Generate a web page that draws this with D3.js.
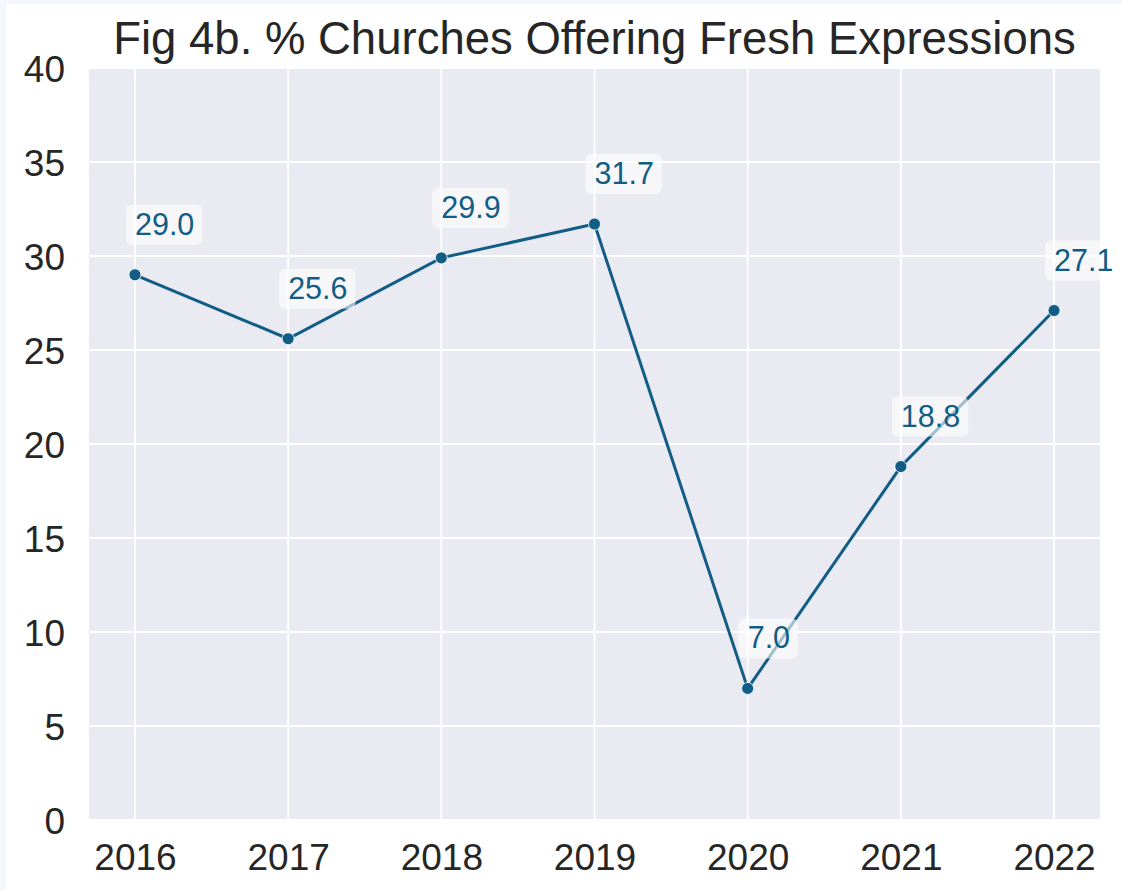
<!DOCTYPE html>
<html>
<head>
    <script src="https://d3js.org/d3.v7.min.js"></script>
    <style>
        body { margin: 0; background: #f4f7fb; }
        svg { display: block; }
    </style>
</head>
<body>
    <div id="chart"></div>
    <script>
        // data
        const years = [2016, 2017, 2018, 2019, 2020, 2021, 2022]
        const pct = [29.0, 25.6, 29.9, 31.7, 7.0, 18.8, 27.1]
        const yTicks = [0, 5, 10, 15, 20, 25, 30, 35, 40]

        const W = 1122, H = 890
        const plot = { left: 89, right: 1100, top: 68, bottom: 820 }
        const lineColor = "#115d85"
        const font = "Arial, 'Liberation Sans', sans-serif"

        const svg = d3.select("#chart").append("svg")
            .attr("width", W).attr("height", H)

        // figure background (white, with the thin light strip at top/left)
        svg.append("rect").attr("x", 6).attr("y", 4)
            .attr("width", W - 6).attr("height", H - 4).attr("fill", "#ffffff")

        const x = d3.scaleLinear().domain([2015.7, 2022.3]).range([plot.left, plot.right])
        const y = d3.scaleLinear().domain([0, 40]).range([plot.bottom, plot.top])

        // plot area
        svg.append("rect")
            .attr("x", plot.left).attr("y", plot.top)
            .attr("width", plot.right - plot.left).attr("height", plot.bottom - plot.top)
            .attr("fill", "#eaeaf2")

        // grid
        svg.append("g").selectAll("line").data(yTicks).join("line")
            .attr("x1", plot.left).attr("x2", plot.right)
            .attr("y1", d => y(d)).attr("y2", d => y(d))
            .attr("stroke", "#fff").attr("stroke-width", 1.8)
        svg.append("g").selectAll("line").data(years).join("line")
            .attr("x1", d => x(d)).attr("x2", d => x(d))
            .attr("y1", plot.top).attr("y2", plot.bottom)
            .attr("stroke", "#fff").attr("stroke-width", 1.8)

        // axes (labels only, like seaborn darkgrid)
        const yAxis = svg.append("g")
            .attr("transform", `translate(${plot.left},0)`)
            .call(d3.axisLeft(y).tickValues(yTicks).tickSize(0).tickPadding(24).tickFormat(d3.format("d")))
        const xAxis = svg.append("g")
            .attr("transform", `translate(0,${plot.bottom})`)
            .call(d3.axisBottom(x).tickValues(years).tickSize(0).tickPadding(24).tickFormat(d3.format("d")))
        for (const ax of [xAxis, yAxis]) {
            ax.select(".domain").remove()
            ax.selectAll("text").attr("font-family", font).attr("font-size", 37).attr("fill", "#262626")
        }
        yAxis.selectAll("text").attr("dy", "0.36em")
        xAxis.selectAll("text").attr("dy", "0.71em")

        // title
        svg.append("text")
            .attr("x", (plot.left + plot.right) / 2).attr("y", 54)
            .attr("text-anchor", "middle")
            .attr("font-family", font).attr("font-size", 45.5).attr("fill", "#262626")
            .text("Fig 4b. % Churches Offering Fresh Expressions")

        const pts = years.map((yr, i) => ({ yr: yr, v: pct[i] }))

        // line + markers
        svg.append("path").datum(pts)
            .attr("fill", "none").attr("stroke", lineColor).attr("stroke-width", 3)
            .attr("d", d3.line().x(d => x(d.yr)).y(d => y(d.v)))
        svg.append("g").selectAll("circle").data(pts).join("circle")
            .attr("cx", d => x(d.yr)).attr("cy", d => y(d.v)).attr("r", 6)
            .attr("fill", lineColor).attr("stroke", "#fff").attr("stroke-width", 0.8)

        // value labels with rounded translucent boxes
        const lab = svg.append("g").selectAll("g").data(pts).join("g")
            .attr("transform", d => `translate(${x(d.yr)},${y(d.v) - 40})`)
        lab.append("text")
            .attr("font-family", font).attr("font-size", 30.5).attr("fill", lineColor)
            .text(d => d.v.toFixed(1))
        lab.each(function () {
            const g = d3.select(this)
            const b = g.select("text").node().getBBox()
            g.insert("rect", "text")
                .attr("x", b.x - 9).attr("y", b.y - 2)
                .attr("width", b.width + 17).attr("height", b.height + 6)
                .attr("rx", 6)
                .attr("fill", "#fff").attr("fill-opacity", 0.6)
        })
    </script>
</body>
</html>
